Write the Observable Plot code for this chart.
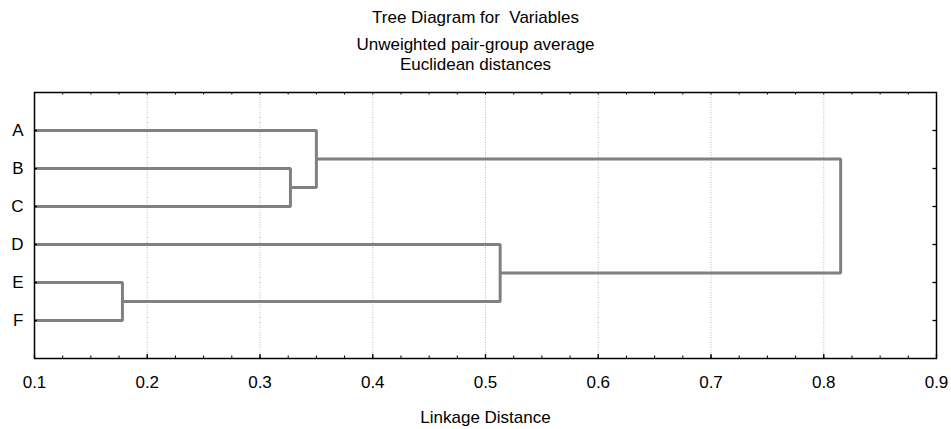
<!DOCTYPE html>
<html>
<head>
<meta charset="utf-8">
<script src="https://cdn.jsdelivr.net/npm/d3@7"></script>
<script src="https://cdn.jsdelivr.net/npm/@observablehq/plot@0.6"></script>
<style>
  html, body { margin: 0; padding: 0; background: #fff; }
  body { width: 951px; height: 429px; overflow: hidden; font-family: "Liberation Sans", Arial, sans-serif; color: #000; }
  #head { position: relative; width: 951px; height: 80px; }
  .t { position: absolute; left: 0; width: 951px; text-align: center; font-size: 17px; line-height: 19px; white-space: pre; }
</style>
</head>
<body>
<div id="head">
  <div class="t" style="top:8px">Tree Diagram for  Variables</div>
  <div class="t" style="top:34.5px">Unweighted pair-group average</div>
  <div class="t" style="top:55px">Euclidean distances</div>
</div>
<div id="chart"></div>
<script>
// ---- data ----
const leaves = ["A", "B", "C", "D", "E", "F"];
const mergeLeft   = ["B", "A",  "E", "D",  "ABC"];
const mergeRight  = ["C", "BC", "F", "EF", "DEF"];
const mergeName   = ["BC", "ABC", "EF", "DEF", "ROOT"];
const mergeHeight = [0.327, 0.350, 0.178, 0.513, 0.815];
const xMajorTicks = [0.1, 0.2, 0.3, 0.4, 0.5, 0.6, 0.7, 0.8, 0.9];
const xMinorTicks = d3.range(0, 33).map(i => 0.1 + i * 0.025);
const xAxisLabel = "Linkage Distance";

// ---- build dendrogram paths ----
const nodes = new Map();
leaves.forEach((l, i) => nodes.set(l, {y: i + 1, h: 0}));
const pts = [];
mergeName.forEach((name, i) => {
  const a = nodes.get(mergeLeft[i]), b = nodes.get(mergeRight[i]);
  const H = mergeHeight[i];
  pts.push({id: name, x: a.h, y: a.y});
  pts.push({id: name, x: H, y: a.y});
  pts.push({id: name, x: H, y: b.y});
  pts.push({id: name, x: b.h, y: b.y});
  nodes.set(name, {y: (a.y + b.y) / 2, h: H});
});

const leafIdx = leaves.map((l, i) => ({label: l, y: i + 1}));
const yMax = leaves.length + 1;
const pxPerUnitY = (429 - 80 - 12 - 71) / yMax;
const pxPerUnitX = (936 - 34) / 0.8;

const chart = Plot.plot({
  width: 951,
  height: 349,
  marginTop: 12,
  marginBottom: 71,
  marginLeft: 34,
  marginRight: 15,
  style: {fontFamily: "'Liberation Sans', Arial, sans-serif", background: "#fff", overflow: "visible"},
  x: {domain: [0.1, 0.9], axis: null},
  y: {domain: [0, yMax], reverse: true, axis: null},
  marks: [
    Plot.ruleX(xMajorTicks.slice(1, -1), {stroke: "#bcbcbc", strokeWidth: 1, strokeDasharray: "1,1.5"}),
    Plot.line(pts, {x: "x", y: "y", z: "id", stroke: "#808080", strokeWidth: 3, strokeLinejoin: "miter", strokeLinecap: "butt", clip: true}),
    // inward ticks: bottom & top
    Plot.ruleX(xMinorTicks, {x: d => d, y1: yMax, y2: yMax - 2.5 / pxPerUnitY, stroke: "#000", strokeWidth: 1}),
    Plot.ruleX(xMajorTicks, {x: d => d, y1: yMax, y2: yMax - 4 / pxPerUnitY, stroke: "#000", strokeWidth: 1.3}),
    Plot.ruleX(xMinorTicks, {x: d => d, y1: 0, y2: 2.5 / pxPerUnitY, stroke: "#000", strokeWidth: 1}),
    // inward ticks: left & right
    Plot.ruleY(leafIdx, {y: "y", x1: 0.1, x2: 0.1 + 3 / pxPerUnitX, stroke: "#000", strokeWidth: 1.3}),
    Plot.ruleY(leafIdx, {y: "y", x1: 0.9, x2: 0.9 - 3.5 / pxPerUnitX, stroke: "#000", strokeWidth: 1.3}),
    Plot.frame({stroke: "#000", strokeWidth: 1.5}),
    // tick labels
    Plot.text(xMajorTicks, {x: d => d, frameAnchor: "bottom", lineAnchor: "top", dy: 17, fontSize: 17, fill: "#000", text: d => d.toFixed(1)}),
    Plot.text(leafIdx, {y: "y", frameAnchor: "left", textAnchor: "end", dx: -11, fontSize: 17, fill: "#000", text: "label"}),
    Plot.text([xAxisLabel], {frameAnchor: "bottom", lineAnchor: "top", dy: 52, fontSize: 17, fill: "#000", text: d => d})
  ]
});
document.getElementById("chart").appendChild(chart);
</script>
</body>
</html>
